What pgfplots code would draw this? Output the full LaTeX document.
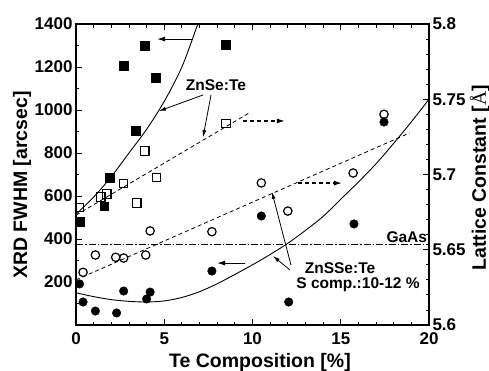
\documentclass[border=0pt]{standalone}
\usepackage{fontspec}
\setmainfont{Liberation Sans}
\newfontfamily\serifA{Liberation Serif}
\usepackage{pgfplots}
\pgfplotsset{compat=1.18}
\usetikzlibrary{arrows.meta}
\begin{document}
\begin{tikzpicture}
\pgfplotsset{
  common/.style={
    width=353pt, height=301pt, scale only axis,
    xmin=0, xmax=20,
    ticklabel style={font=\fontsize{17}{17}\selectfont\bfseries},
    /pgf/number format/assume math mode=true,
    /pgf/number format/1000 sep={},
    major tick length=6pt, minor tick length=3.5pt,
    every tick/.style={black, line width=0.9pt},
    axis line style={line width=1.3pt},
  }
}
\begin{axis}[common,
  at={(0,0)}, anchor=south west,
  ymin=0, ymax=1400,
  xtick={0,5,10,15,20}, minor x tick num=4,
  ytick={200,400,600,800,1000,1200,1400},
  minor ytick={100,300,500,700,900,1100,1300},
  ytick pos=left, xtick pos=both, xticklabel pos=bottom,
  xticklabel style={yshift=-4pt},
  clip=true,
]
% ZnSe:Te FWHM (filled squares)
\addplot[only marks, mark=square*, mark size=4.4pt, black] coordinates {
 (0.2,479) (1.6,553) (1.9,684) (2.7,1205) (3.4,902) (3.9,1298) (4.5,1149) (8.5,1302)};
% ZnSSe:Te FWHM (filled circles)
\addplot[only marks, mark=*, mark size=4.3pt, black] coordinates {
 (0.2,191) (0.4,107) (1.1,65) (2.3,56) (2.7,158) (4.0,121) (4.2,153)
 (7.7,251) (10.5,507) (12.05,107) (15.75,470) (17.45,944)};
% ZnSe:Te FWHM curve
\addplot[black, line width=0.9pt, smooth] coordinates {
 (0,515) (1,595) (2,690) (3,800) (4,910) (5,1040) (6,1200) (6.9,1400) (7.1,1450)};
% ZnSSe:Te FWHM curve
\addplot[black, line width=0.9pt, smooth] coordinates {
 (0,150) (1,132) (2,118) (3,110) (4,107) (5,112) (6,128) (7,155) (8,192)
 (9,235) (10,280) (11,328) (12,380) (13,440) (14,505) (15,585) (16,665)
 (17,750) (18,845) (19,945) (20,1050)};
% annotations
\draw[black, line width=0.9pt, -{Latex[length=8pt,width=5pt]}] (axis cs:6.6,1330) -- (axis cs:4.6,1330);
\draw[black, line width=0.9pt, -{Latex[length=8pt,width=5pt]}] (axis cs:9.6,288) -- (axis cs:8.0,288);
\draw[black, line width=1.3pt, dash pattern=on 4pt off 3pt, -{Latex[length=8pt,width=5pt]}] (axis cs:9.46,949) -- (axis cs:11.84,949);
\draw[black, line width=1.3pt, dash pattern=on 4pt off 3pt, -{Latex[length=8pt,width=5pt]}] (axis cs:12.58,660) -- (axis cs:15.07,660);
\node[font=\fontsize{15.5}{15.5}\selectfont\bfseries, inner sep=0pt] at (axis cs:7.93,1116) {ZnSe:Te};
\draw[black, line width=0.8pt, -{Latex[length=7pt,width=4pt]}] (axis cs:7.2,1070) -- (axis cs:4.7,995);
\draw[black, line width=0.8pt, -{Latex[length=7pt,width=4pt]}] (axis cs:7.65,1070) -- (axis cs:7.2,874);
\node[font=\fontsize{15.5}{15.5}\selectfont\bfseries, inner sep=0pt] at (axis cs:14.96,265) {ZnSSe:Te};
\node[font=\fontsize{15.5}{15.5}\selectfont\bfseries, inner sep=0pt] at (axis cs:15.98,186) {S comp.:10-12 \%};
\draw[black, line width=0.8pt, -{Latex[length=7pt,width=4pt]}] (axis cs:12.18,279) -- (axis cs:11.1,619);
\draw[black, line width=0.8pt, -{Latex[length=7pt,width=4pt]}] (axis cs:12.12,256) -- (axis cs:11.16,321);
\node[font=\fontsize{15.5}{15.5}\selectfont\bfseries, inner sep=0pt, anchor=south east] at (axis cs:19.9,383) {GaAs};
\end{axis}
\begin{axis}[common,
  at={(0,0)}, anchor=south west,
  ymin=5.6, ymax=5.8,
  axis x line=none, axis y line*=right,
  ytick={5.6,5.65,5.7,5.75,5.8}, minor y tick num=4,
  ytick pos=right, yticklabel pos=right,
  yticklabel style={/pgf/number format/fixed, /pgf/number format/precision=2},
]
% ZnSe:Te lattice (open squares)
\addplot[only marks, mark=square, mark size=4.2pt, black, mark options={line width=1.2pt}] coordinates {
 (0.2,5.678) (1.4,5.685) (1.75,5.687) (2.7,5.694) (3.45,5.681) (3.9,5.7156) (4.55,5.698) (8.5,5.734)};
% ZnSSe:Te lattice (open circles)
\addplot[only marks, mark=o, mark size=4.2pt, black, mark options={line width=1.2pt}] coordinates {
 (0.4,5.635) (1.1,5.6465) (2.25,5.645) (2.7,5.6445) (3.95,5.6465) (4.2,5.6625)
 (7.7,5.662) (10.5,5.6944) (12.0,5.6757) (15.7,5.701) (17.45,5.740)};
% dashed fit lines
\addplot[black, line width=0.8pt, dash pattern=on 4pt off 3pt] coordinates {(0,5.673) (9.9,5.7415)};
\addplot[black, line width=0.8pt, dash pattern=on 4pt off 3pt] coordinates {(0,5.630) (18.9,5.7276)};
% GaAs
\addplot[black, line width=0.8pt, dash pattern=on 7pt off 2pt on 1.5pt off 2pt] coordinates {(0,5.6533) (20,5.6533)};
\end{axis}
\node[rotate=90, font=\fontsize{19.5}{19.5}\selectfont\bfseries, inner sep=0pt] at (-54pt,140pt) {XRD FWHM [arcsec]};
\node[rotate=90, font=\fontsize{19.5}{19.5}\selectfont\bfseries, inner sep=0pt] at (404pt,147pt) {Lattice Constant [{\serifA\mdseries Å}]};
\node[font=\fontsize{19.5}{19.5}\selectfont\bfseries, inner sep=0pt] at (184pt,-37pt) {Te Composition [\%]};
\pgfresetboundingbox
\path (-76pt,-45pt) rectangle (413pt,325pt);
\end{tikzpicture}
\end{document}
